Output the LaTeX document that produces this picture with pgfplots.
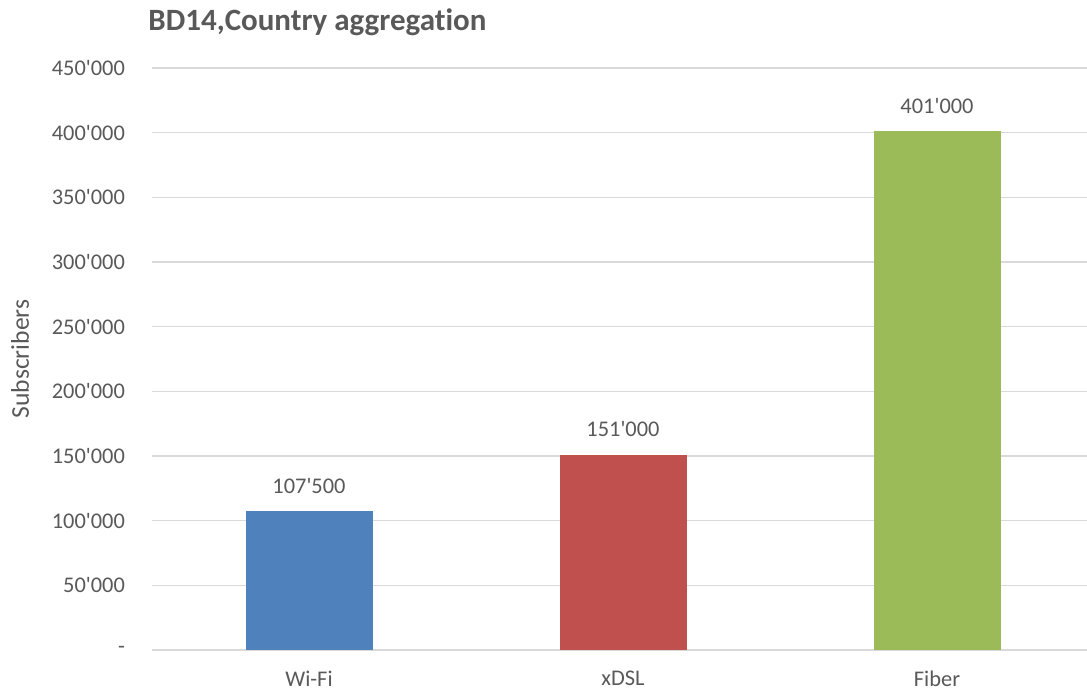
\documentclass[border=0pt]{standalone}
\usepackage{pgfplots}
\pgfplotsset{compat=1.18}
\usepackage{fontspec}
\setmainfont{Carlito}[Ligatures={TeXOff,NoCommon}]
\definecolor{txt}{HTML}{595959}
\definecolor{gridc}{HTML}{D9D9D9}
\definecolor{cblue}{HTML}{4F81BD}
\definecolor{cred}{HTML}{C0504D}
\definecolor{cgreen}{HTML}{9BBB59}
\begin{document}
\begin{tikzpicture}[x=1pt,y=1pt]
\useasboundingbox (0,0) rectangle (543.5,345);
\begin{axis}[
  at={(76pt,20pt)}, anchor=south west,
  scale only axis, width=467.5pt, height=291pt,
  xmin=-0.5, xmax=2.4777, ymin=0, ymax=450000,
  axis line style={draw=none},
  ybar, bar width=63.5pt,
  xtick={0,1,2}, xticklabels={Wi-Fi,xDSL,Fiber},
  ytick={0,50000,...,450000},
  yticklabels={-\hspace{5.5pt},50'000,100'000,150'000,200'000,250'000,300'000,350'000,400'000,450'000},
  scaled y ticks=false,
  major tick length=0pt,
  xmajorgrids=false, ymajorgrids=true,
  major grid style={draw=gridc, line width=0.8pt},
  tick label style={font=\fontsize{11.2}{13}\selectfont, text=txt},
  yticklabel style={xshift=-10pt},
  xticklabel style={yshift=-7pt},
  every node near coord/.append style={font=\fontsize{11.2}{13}\selectfont, text=txt, yshift=5.3pt},
  clip=false,
]
\addplot[fill=cblue, draw=none, bar shift=0pt, nodes near coords={107'500}] coordinates {(0,107500)};
\addplot[fill=cred, draw=none, bar shift=0pt, nodes near coords={151'000}] coordinates {(1,151000)};
\addplot[fill=cgreen, draw=none, bar shift=0pt, nodes near coords={401'000}] coordinates {(2,401000)};
\end{axis}
\node[anchor=base west, inner sep=0, text=txt, font=\bfseries\fontsize{15.5}{18}\selectfont] at (74,329.5) {BD14,Country aggregation};
\node[rotate=90, inner sep=0, text=txt, font=\fontsize{12.8}{15}\selectfont] at (10,165.5) {Subscribers};
\end{tikzpicture}
\end{document}
